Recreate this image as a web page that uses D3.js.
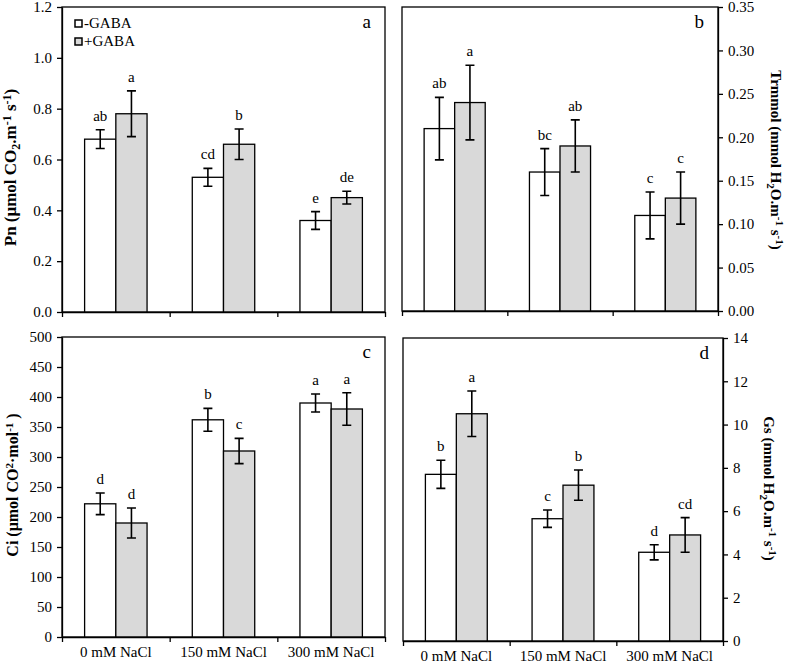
<!DOCTYPE html>
<html>
<head>
<meta charset="utf-8">
<script src="https://cdn.jsdelivr.net/npm/d3@7"></script>
<style>
  body { margin: 0; background: #fff; }
  svg { font-family: "Liberation Serif", "Times New Roman", serif; }
  .axis text { font-size: 15px; fill: #000; font-family: "Liberation Serif", serif; }
  .axis path, .axis line { stroke: #000; stroke-width: 1.3px; }
</style>
</head>
<body>
<div id="vis"></div>
<script>
const categories = ['0 mM NaCl', '150 mM NaCl', '300 mM NaCl']

// Pn
const pnMinus = [0.68, 0.53, 0.36]
const pnMinusErr = [0.037, 0.035, 0.035]
const pnPlus = [0.78, 0.66, 0.45]
const pnPlusErr = [0.09, 0.06, 0.025]
const pnMinusLetters = ['ab', 'cd', 'e']
const pnPlusLetters = ['a', 'b', 'de']

// Trmmol
const trMinus = [0.21, 0.16, 0.11]
const trMinusErr = [0.036, 0.027, 0.027]
const trPlus = [0.24, 0.19, 0.13]
const trPlusErr = [0.043, 0.03, 0.03]
const trMinusLetters = ['ab', 'bc', 'c']
const trPlusLetters = ['a', 'ab', 'c']

// Ci
const ciMinus = [222, 362, 390]
const ciMinusErr = [18, 19, 15]
const ciPlus = [190, 310, 380]
const ciPlusErr = [25, 21, 27]
const ciMinusLetters = ['d', 'b', 'a']
const ciPlusLetters = ['d', 'c', 'a']

// Gs
const gsMinus = [7.7, 5.65, 4.1]
const gsMinusErr = [0.65, 0.4, 0.35]
const gsPlus = [10.5, 7.2, 4.9]
const gsPlusErr = [1.05, 0.7, 0.8]
const gsMinusLetters = ['b', 'c', 'd']
const gsPlusLetters = ['a', 'b', 'cd']

const pnTicks = [0, 0.2, 0.4, 0.6, 0.8, 1.0, 1.2]
const trTicks = [0, 0.05, 0.10, 0.15, 0.20, 0.25, 0.30, 0.35]
const ciTicks = [0, 50, 100, 150, 200, 250, 300, 350, 400, 450, 500]
const gsTicks = [0, 2, 4, 6, 8, 10, 12, 14]

const legendNames = ['-GABA', '+GABA']
const fills = ['#ffffff', '#d9d9d9']

const svg = d3.select('#vis')
    .append('svg')
    .attr('width', 787)
    .attr('height', 665)

function drawPanel(p) {
    const g = svg.append('g')

    let xScale = d3.scaleBand()
        .domain(categories)
        .range([p.x0, p.x1])
    let edgeScale = d3.scaleLinear()
        .domain([0, categories.length])
        .range([p.x0, p.x1])
    let yScale = d3.scaleLinear()
        .domain([0, d3.max(p.ticks)])
        .range([p.y1, p.y0])

    const barW = xScale.bandwidth() * 0.29
    const cap = 4.5

    // frame
    g.append('rect')
        .attr('x', p.x0).attr('y', p.y0)
        .attr('width', p.x1 - p.x0).attr('height', p.y1 - p.y0)
        .attr('fill', 'none').attr('stroke', '#000').attr('stroke-width', 1.3)

    const series = [
        {vals: p.minus, err: p.minusErr, letters: p.minusLetters, off: -1},
        {vals: p.plus, err: p.plusErr, letters: p.plusLetters, off: 0}
    ]

    series.forEach((s, si) => {
        const rows = categories.map((c, i) => ({cat: c, v: s.vals[i], e: s.err[i], l: s.letters[i]}))
        const cx = d => xScale(d.cat) + xScale.bandwidth() / 2 + s.off * barW

        g.selectAll('.bar' + si)
            .data(rows)
            .join('rect')
            .attr('x', d => cx(d))
            .attr('y', d => yScale(d.v))
            .attr('width', barW)
            .attr('height', d => yScale(0) - yScale(d.v))
            .attr('fill', fills[si])
            .attr('stroke', '#000')
            .attr('stroke-width', 1.3)

        const mid = d => cx(d) + barW / 2
        g.selectAll('.err' + si)
            .data(rows)
            .join('path')
            .attr('d', d => {
                const t = yScale(d.v + d.e), b = yScale(d.v - d.e), m = mid(d)
                return `M${m - cap},${t}H${m + cap}M${m},${t}V${b}M${m - cap},${b}H${m + cap}`
            })
            .attr('fill', 'none')
            .attr('stroke', '#000')
            .attr('stroke-width', 1.6)

        g.selectAll('.lab' + si)
            .data(rows)
            .join('text')
            .attr('x', d => mid(d))
            .attr('y', d => yScale(d.v + d.e) - 9)
            .attr('text-anchor', 'middle')
            .style('font-size', '15px')
            .text(d => d.l)
    })

    // x axis: ticks at group edges
    g.append('g')
        .attr('class', 'axis')
        .attr('transform', `translate(0,${p.y1})`)
        .call(d3.axisBottom(edgeScale).tickValues(d3.range(categories.length + 1)).tickFormat('').tickSize(5).tickSizeOuter(0))

    if (p.showX) {
        g.append('g')
            .attr('class', 'axis')
            .attr('transform', `translate(0,${p.y1})`)
            .call(d3.axisBottom(xScale).tickSize(0).tickPadding(9))
            .call(a => a.select('.domain').remove())
    }

    // y axis
    const yAx = p.right ? d3.axisRight(yScale) : d3.axisLeft(yScale)
    g.append('g')
        .attr('class', 'axis')
        .attr('transform', `translate(${p.right ? p.x1 : p.x0},0)`)
        .call(yAx.tickValues(p.ticks).tickFormat(d3.format(p.fmt)).tickSize(5).tickSizeOuter(0).tickPadding(5))

    // panel letter
    g.append('text')
        .attr('x', p.x1 - 14)
        .attr('y', p.y0 + 21)
        .attr('text-anchor', 'end')
        .style('font-size', '19px')
        .text(p.letter)

    // y title
    const small = Math.round(p.titleSize * 0.7)
    const t = g.append('text')
        .attr('transform', `translate(${p.titleX},${(p.y0 + p.y1) / 2 + p.titleDy}) rotate(${p.right ? 90 : -90})`)
        .attr('text-anchor', 'middle')
        .style('font-size', p.titleSize + 'px')
        .style('font-weight', 'bold')
    p.title.forEach(part => {
        const sp = t.append('tspan').text(part[0])
        if (part[1] === 'sup') sp.attr('dy', -5).style('font-size', small + 'px')
        if (part[1] === 'sub') sp.attr('dy', 4).style('font-size', small + 'px')
        if (part[1] === 'base') sp.attr('dy', part[2])
    })
}

drawPanel({x0: 62, x1: 385, y0: 7, y1: 312, ticks: pnTicks, fmt: '.1f', right: false, showX: false,
    minus: pnMinus, minusErr: pnMinusErr, plus: pnPlus, plusErr: pnPlusErr,
    minusLetters: pnMinusLetters, plusLetters: pnPlusLetters, letter: 'a', titleX: 16, titleDy: 8, titleSize: 17,
    title: [['Pn (μmol CO'], ['2', 'sub'], ['.m', 'base', -4], ['-1', 'sup'], [' s', 'base', 5], ['-1', 'sup'], [')', 'base', 5]]})

drawPanel({x0: 402, x1: 718, y0: 7, y1: 311, ticks: trTicks, fmt: '.2f', right: true, showX: false,
    minus: trMinus, minusErr: trMinusErr, plus: trPlus, plusErr: trPlusErr,
    minusLetters: trMinusLetters, plusLetters: trPlusLetters, letter: 'b', titleX: 771, titleDy: 1, titleSize: 15,
    title: [['Trmmol (mmol H'], ['2', 'sub'], ['O.m', 'base', -4], ['-1', 'sup'], [' s', 'base', 5], ['-1', 'sup'], [')', 'base', 5]]})

drawPanel({x0: 62, x1: 385, y0: 337, y1: 637, ticks: ciTicks, fmt: 'd', right: false, showX: true,
    minus: ciMinus, minusErr: ciMinusErr, plus: ciPlus, plusErr: ciPlusErr,
    minusLetters: ciMinusLetters, plusLetters: ciPlusLetters, letter: 'c', titleX: 18, titleDy: -2, titleSize: 16,
    title: [['Ci (μmol CO'], ['2', 'sup'], ['·mol', 'base', 5], ['-1', 'sup'], [' )', 'base', 5]]})

drawPanel({x0: 403, x1: 723, y0: 338, y1: 641, ticks: gsTicks, fmt: 'd', right: true, showX: true,
    minus: gsMinus, minusErr: gsMinusErr, plus: gsPlus, plusErr: gsPlusErr,
    minusLetters: gsMinusLetters, plusLetters: gsPlusLetters, letter: 'd', titleX: 764, titleDy: -1, titleSize: 15,
    title: [['Gs (mmol H'], ['2', 'sub'], ['O.m', 'base', -4], ['-1', 'sup'], [' s', 'base', 5], ['-1', 'sup'], [')', 'base', 5]]})

// legend
const legend = svg.append('g')
legend.selectAll('rect')
    .data(legendNames)
    .join('rect')
    .attr('x', 75)
    .attr('y', (d, i) => 20 + i * 18)
    .attr('width', 7)
    .attr('height', 7)
    .attr('fill', (d, i) => fills[i])
    .attr('stroke', '#000')
    .attr('stroke-width', 1.5)
legend.selectAll('text')
    .data(legendNames)
    .join('text')
    .attr('x', 84)
    .attr('y', (d, i) => 28 + i * 18)
    .style('font-size', '15px')
    .text(d => d)
</script>
</body>
</html>
